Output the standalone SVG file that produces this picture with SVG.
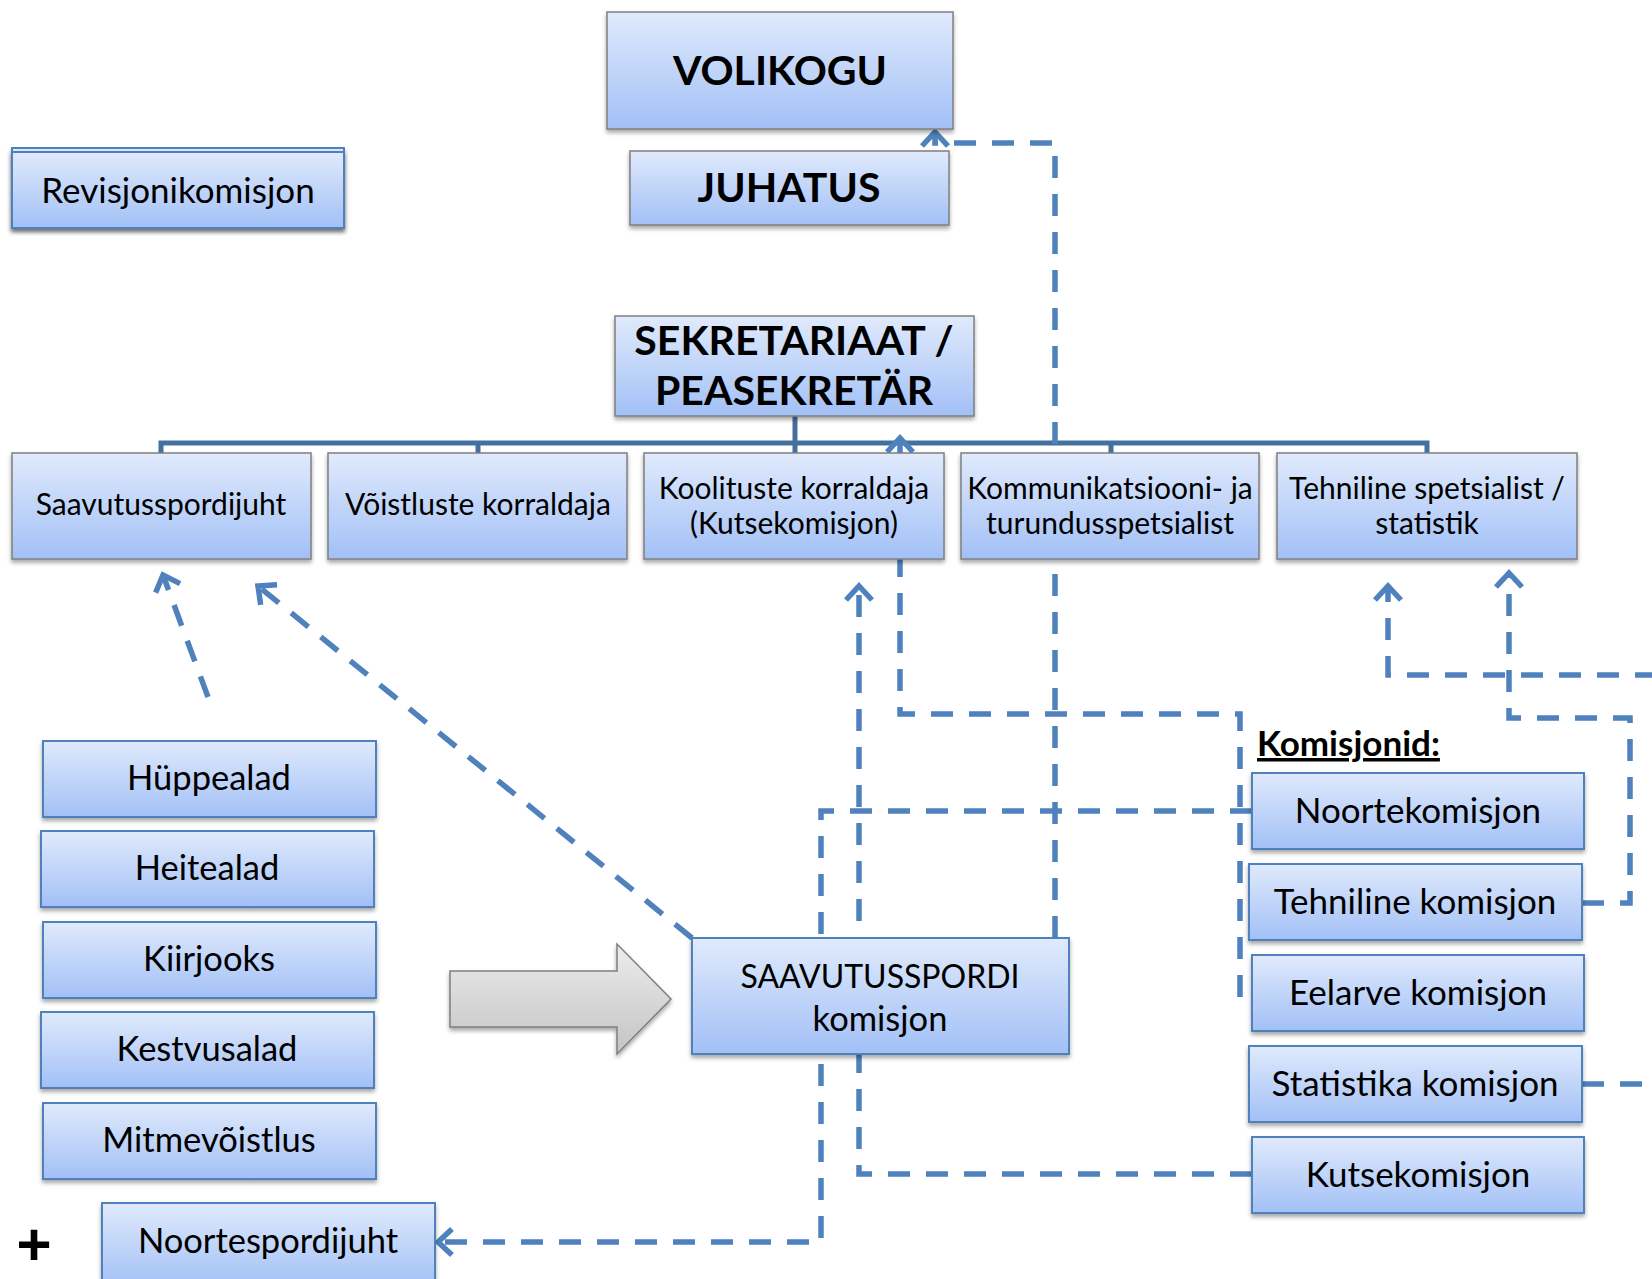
<svg xmlns="http://www.w3.org/2000/svg" width="1652" height="1279" viewBox="0 0 1652 1279">
<defs>
<linearGradient id="g" x1="0" y1="0" x2="0" y2="1"><stop offset="0" stop-color="#e0eafc"/><stop offset="1" stop-color="#a2c0f6"/></linearGradient>
<linearGradient id="gg" x1="0" y1="0" x2="0" y2="1"><stop offset="0" stop-color="#ececec"/><stop offset="1" stop-color="#c4c4c4"/></linearGradient>
<filter id="sh" x="-10%" y="-10%" width="120%" height="140%"><feDropShadow dx="0" dy="3" stdDeviation="2" flood-color="#000" flood-opacity="0.35"/></filter>
<marker id="ar" markerUnits="userSpaceOnUse" markerWidth="32" markerHeight="32" viewBox="0 0 32 32" refX="22" refY="16" orient="auto"><path d="M8 3 L22 16 L8 29" fill="none" stroke="#4f81bd" stroke-width="5.5"/></marker>
<style>
.bx{fill:url(#g);filter:url(#sh)}
.gb{stroke:#7f7f7f;stroke-width:1.5}
.bb{stroke:#4f81bd;stroke-width:2}
text{font-family:Lato,"Liberation Sans",sans-serif;fill:#000;text-anchor:middle}
.t{font-weight:bold;font-size:41px}
.r{font-size:30px}
.m{font-size:34.5px}
.c{font-size:35px}
.d{fill:none;stroke:#4f81bd;stroke-width:5.5;stroke-dasharray:22 16}
.s{fill:none;stroke:#44709f;stroke-width:5}
</style>
</defs>
<rect width="1652" height="1279" fill="#fff"/>

<g id="connectors">
<path class="s" d="M161 453 V443 H1427 V453 M795 416 V453 M478 443 V453 M1111 443 V453"/>
<path class="d" d="M1055 938 V143 H935 V132" marker-end="url(#ar)"/>
<path class="d" d="M1240 997 V714 H900 V438" marker-end="url(#ar)"/>
<path class="d" d="M1252 1174 H859 V586" marker-end="url(#ar)"/>
<path class="d" d="M1252 811 H821 V1242 H438" marker-end="url(#ar)"/>
<path class="d" d="M692 938 L258 586" marker-end="url(#ar)"/>
<path class="d" d="M208 697 L163 575" marker-end="url(#ar)"/>
<path class="d" d="M1582 903 H1630 V718 H1509 V573" marker-end="url(#ar)"/>
<path class="d" d="M1582 1084 H1700 V675 H1388 V586" marker-end="url(#ar)"/>
</g>

<g id="volikogu"><rect class="bx gb" x="607" y="12" width="346" height="117"/><text class="t" x="780" y="85">VOLIKOGU</text></g>
<g id="juhatus"><rect class="bx gb" x="630" y="151" width="319" height="74"/><text class="t" x="789" y="202">JUHATUS</text></g>
<g id="revisjonikomisjon"><rect class="bx bb" x="12" y="148" width="332" height="80"/><rect class="bx bb" x="12" y="152" width="332" height="76"/><text class="c" x="178" y="203">Revisjonikomisjon</text></g>
<g id="sekretariaat"><rect class="bx gb" x="615" y="316" width="359" height="100"/><text class="t" x="794" y="355">SEKRETARIAAT /</text><text class="t" x="794" y="405">PEASEKRETÄR</text></g>

<g id="saavutusspordijuht"><rect class="bx gb" x="12" y="453" width="299" height="106"/><text class="r" x="161" y="515">Saavutusspordijuht</text></g>
<g id="voistluste"><rect class="bx gb" x="328" y="453" width="299" height="106"/><text class="r" x="478" y="515">Võistluste korraldaja</text></g>
<g id="koolituste"><rect class="bx gb" x="644" y="453" width="300" height="106"/><text class="r" x="794" y="499">Koolituste korraldaja</text><text class="r" x="794" y="534">(Kutsekomisjon)</text></g>
<g id="kommunikatsioon"><rect class="bx gb" x="961" y="453" width="298" height="106"/><text class="r" x="1110" y="499">Kommunikatsiooni- ja</text><text class="r" x="1110" y="534">turundusspetsialist</text></g>
<g id="tehniline-spetsialist"><rect class="bx gb" x="1277" y="453" width="300" height="106"/><text class="r" x="1427" y="499">Tehniline spetsialist /</text><text class="r" x="1427" y="534">statistik</text></g>

<g id="huppealad"><rect class="bx bb" x="43" y="741" width="333" height="76"/><text class="m" x="209" y="790">Hüppealad</text></g>
<g id="heitealad"><rect class="bx bb" x="41" y="831" width="333" height="76"/><text class="m" x="207" y="880">Heitealad</text></g>
<g id="kiirjooks"><rect class="bx bb" x="43" y="922" width="333" height="76"/><text class="m" x="209" y="971">Kiirjooks</text></g>
<g id="kestvusalad"><rect class="bx bb" x="41" y="1012" width="333" height="76"/><text class="m" x="207" y="1061">Kestvusalad</text></g>
<g id="mitmevoistlus"><rect class="bx bb" x="43" y="1103" width="333" height="76"/><text class="m" x="209" y="1152">Mitmevõistlus</text></g>
<g id="noortespordijuht"><rect class="bx bb" x="102" y="1203" width="333" height="84"/><text class="m" x="268" y="1253">Noortespordijuht</text></g>
<g id="plus"><text x="34" y="1265" style="font-family:'Liberation Sans',sans-serif;font-weight:bold;font-size:60px">+</text></g>

<g id="arrow"><polygon points="450,971 617,971 617,944 671,999 617,1054 617,1027 450,1027" fill="url(#gg)" stroke="#7f7f7f" stroke-width="1.5" filter="url(#sh)"/></g>
<g id="saavutusspordi-komisjon"><rect class="bx bb" x="692" y="938" width="377" height="116"/><text x="880" y="988" style="font-size:32px">SAAVUTUSSPORDI</text><text class="m" x="880" y="1031">komisjon</text></g>

<g id="komisjonid"><text x="1257" y="756" style="font-weight:bold;font-size:35px;text-anchor:start;text-decoration:underline">Komisjonid:</text></g>
<g id="noortekomisjon"><rect class="bx bb" x="1252" y="773" width="332" height="76"/><text class="c" x="1418" y="823">Noortekomisjon</text></g>
<g id="tehniline-komisjon"><rect class="bx bb" x="1249" y="864" width="333" height="76"/><text class="c" x="1415" y="914">Tehniline komisjon</text></g>
<g id="eelarve-komisjon"><rect class="bx bb" x="1252" y="955" width="332" height="76"/><text class="c" x="1418" y="1005">Eelarve komisjon</text></g>
<g id="statistika-komisjon"><rect class="bx bb" x="1249" y="1046" width="333" height="76"/><text class="c" x="1415" y="1096">Statistika komisjon</text></g>
<g id="kutsekomisjon"><rect class="bx bb" x="1252" y="1137" width="332" height="76"/><text class="c" x="1418" y="1187">Kutsekomisjon</text></g>
</svg>
